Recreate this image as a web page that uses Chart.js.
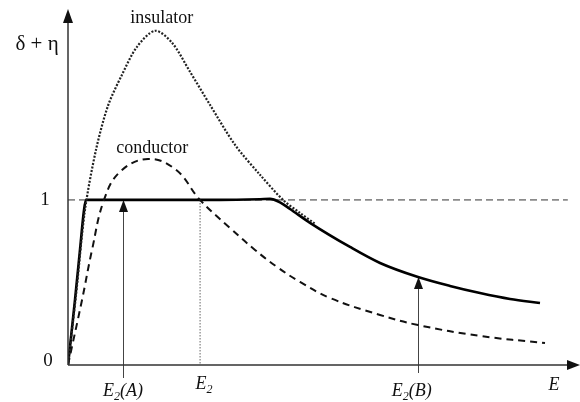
<!DOCTYPE html>
<html>
<head>
<meta charset="utf-8">
<script src="https://cdn.jsdelivr.net/npm/chart.js@4"></script>
<style>
  html, body { margin: 0; padding: 0; background: #fff; }
  canvas { display: block; }
</style>
</head>
<body>
<canvas id="c" width="580" height="402"></canvas>
<script>
// ---- data (E in arbitrary units 0..100, yield δ+η) ----
const insulatorE = [0, 1.57, 3.33, 5.49, 7.84, 10.59, 13.53, 17.06, 20.39, 23.92, 27.84, 32.75, 37.65, 42.16, 45.49, 48.43];
const insulatorY = [0, 0.424, 0.939, 1.303, 1.570, 1.758, 1.927, 2.024, 1.952, 1.776, 1.576, 1.333, 1.152, 1.000, 0.921, 0.855];

const conductorE = [0, 2.75, 4.71, 7.06, 10.20, 15.69, 21.18, 25.88, 31.76, 36.67, 40.98, 45.49, 51.37, 61.18, 68.63, 80.78, 93.53];
const conductorY = [0, 0.394, 0.697, 1.0, 1.170, 1.248, 1.182, 1.0, 0.830, 0.697, 0.594, 0.503, 0.406, 0.303, 0.242, 0.176, 0.133];

const resultE = [0, 1.37, 2.35, 3.14, 3.53, 16.08, 29.8, 37.65, 39.61, 41.57, 43.53, 47.45, 55.29, 61.18, 68.63, 74.90, 80.78, 86.67, 92.55];
const resultY = [0, 0.394, 0.697, 0.939, 1.0, 1.0, 1.0, 1.004, 1.006, 0.985, 0.945, 0.861, 0.715, 0.618, 0.533, 0.479, 0.436, 0.400, 0.376];

const unityY = 1;
const markerE = [10.8, 25.9, 68.6];          // E2(A), E2, E2(B)
const markerSub = ['(A)', '', '(B)'];
const markerTopY = [1.0, 1.0, 0.533];
const yTickValues = [0, 1];
const yTickLabels = ['0', '1'];
const yTitle = 'δ + η';
const xTitle = 'E';
const curveLabels = ['insulator', 'conductor'];
const curveLabelPos = [[18.4, 2.10], [16.5, 1.315]];

const toXY = (xs, ys) => xs.map((x, i) => ({ x: x, y: ys[i] }));

const SERIF = '"Liberation Serif", "DejaVu Serif", serif';

function arrowHead(ctx, x, y, dir, w, h) {
  ctx.beginPath();
  if (dir === 'up') {
    ctx.moveTo(x, y); ctx.lineTo(x - w / 2, y + h); ctx.lineTo(x + w / 2, y + h);
  } else {
    ctx.moveTo(x, y); ctx.lineTo(x - h, y - w / 2); ctx.lineTo(x - h, y + w / 2);
  }
  ctx.closePath();
  ctx.fill();
}

function drawELabel(ctx, cx, baseline, sub, size) {
  ctx.font = 'italic ' + size + 'px ' + SERIF;
  const wE = ctx.measureText('E').width;
  const subFont = 'italic ' + Math.round(size * 0.68) + 'px ' + SERIF;
  ctx.font = subFont;
  const w2 = ctx.measureText('2').width;
  ctx.font = 'italic ' + size + 'px ' + SERIF;
  const wS = sub ? ctx.measureText(sub).width : 0;
  let x = cx - (wE + w2 + wS) / 2;
  ctx.textAlign = 'left';
  ctx.textBaseline = 'alphabetic';
  ctx.fillText('E', x, baseline); x += wE;
  ctx.font = subFont;
  ctx.fillText('2', x, baseline + 4); x += w2;
  if (sub) {
    ctx.font = 'italic ' + size + 'px ' + SERIF;
    ctx.fillText(sub, x, baseline);
  }
}

const decor = {
  id: 'decor',
  beforeDatasetsDraw(chart) {
    const { ctx, scales: { x, y } } = chart;
    ctx.save();
    ctx.strokeStyle = '#8a8a8a';
    ctx.lineWidth = 1.6;
    ctx.setLineDash([7, 4]);
    ctx.beginPath();
    ctx.moveTo(x.getPixelForValue(0), y.getPixelForValue(unityY));
    ctx.lineTo(x.getPixelForValue(98), y.getPixelForValue(unityY));
    ctx.stroke();
    ctx.strokeStyle = '#8a8a8a';
    ctx.lineWidth = 1.3;
    ctx.setLineDash([1.5, 1.5]);
    ctx.beginPath();
    ctx.moveTo(x.getPixelForValue(markerE[1]), y.getPixelForValue(markerTopY[1]));
    ctx.lineTo(x.getPixelForValue(markerE[1]), y.getPixelForValue(0));
    ctx.stroke();
    ctx.setLineDash([]);
    ctx.strokeStyle = '#444';
    ctx.fillStyle = '#111';
    ctx.lineWidth = 1;
    [0, 2].forEach(i => {
      const px = Math.round(x.getPixelForValue(markerE[i])) + 0.5;
      const top = y.getPixelForValue(markerTopY[i]);
      const bot = y.getPixelForValue(0) + (i === 0 ? 13 : 8);
      ctx.beginPath();
      ctx.moveTo(px, bot);
      ctx.lineTo(px, top + 10);
      ctx.stroke();
      arrowHead(ctx, px, top, 'up', 9, 12);
    });
    ctx.restore();
  },
  afterDatasetsDraw(chart) {
    const { ctx, scales: { x, y } } = chart;
    ctx.save();
    const x0 = x.getPixelForValue(0);
    const y0 = y.getPixelForValue(0);
    ctx.strokeStyle = '#333';
    ctx.fillStyle = '#111';
    ctx.lineWidth = 1.5;
    ctx.beginPath();
    ctx.moveTo(x0, y0); ctx.lineTo(x0, 20);
    ctx.moveTo(x0, y0); ctx.lineTo(570, y0);
    ctx.stroke();
    arrowHead(ctx, x0, 9, 'up', 10, 14);
    arrowHead(ctx, 580, y0, 'right', 10, 13);
    ctx.fillStyle = '#111';
    ctx.font = '19px ' + SERIF;
    ctx.textAlign = 'center';
    ctx.textBaseline = 'middle';
    yTickValues.forEach((v, i) => {
      ctx.fillText(yTickLabels[i], i === 0 ? 48 : 45, y.getPixelForValue(v) + (i === 0 ? -4 : 0));
    });
    ctx.font = '21px ' + SERIF;
    ctx.fillText(yTitle, 37, 44);
    ctx.font = '18px ' + SERIF;
    curveLabels.forEach((t, i) => {
      ctx.fillText(t, x.getPixelForValue(curveLabelPos[i][0]), y.getPixelForValue(curveLabelPos[i][1]));
    });
    drawELabel(ctx, x.getPixelForValue(markerE[0]), 396, markerSub[0], 18);
    drawELabel(ctx, x.getPixelForValue(markerE[1]) + 4, 389, markerSub[1], 18);
    drawELabel(ctx, x.getPixelForValue(markerE[2]) - 6, 396, markerSub[2], 18);
    ctx.font = 'italic 18px ' + SERIF;
    ctx.textAlign = 'center';
    ctx.textBaseline = 'alphabetic';
    ctx.fillText(xTitle, 554, 390);
    ctx.restore();
  }
};

new Chart(document.getElementById('c'), {
  type: 'line',
  data: {
    datasets: [
      {
        label: curveLabels[0],
        data: toXY(insulatorE, insulatorY),
        borderColor: '#222',
        borderWidth: 2.2,
        borderDash: [2, 1.6],
        pointRadius: 0,
        tension: 0.3,
        fill: false
      },
      {
        label: curveLabels[1],
        data: toXY(conductorE, conductorY),
        borderColor: '#111',
        borderWidth: 2,
        borderDash: [7, 5],
        pointRadius: 0,
        tension: 0.4,
        fill: false
      },
      {
        label: 'result',
        data: toXY(resultE, resultY),
        borderColor: '#000',
        borderWidth: 2.6,
        pointRadius: 0,
        cubicInterpolationMode: 'monotone',
        fill: false
      }
    ]
  },
  options: {
    responsive: false,
    animation: false,
    layout: { padding: { left: 68, right: 2, top: 10, bottom: 37 } },
    scales: {
      x: { type: 'linear', min: 0, max: 100, display: false },
      y: { type: 'linear', min: 0, max: 2.15, display: false }
    },
    plugins: { legend: { display: false }, tooltip: { enabled: false } }
  },
  plugins: [decor]
});
</script>
</body>
</html>
